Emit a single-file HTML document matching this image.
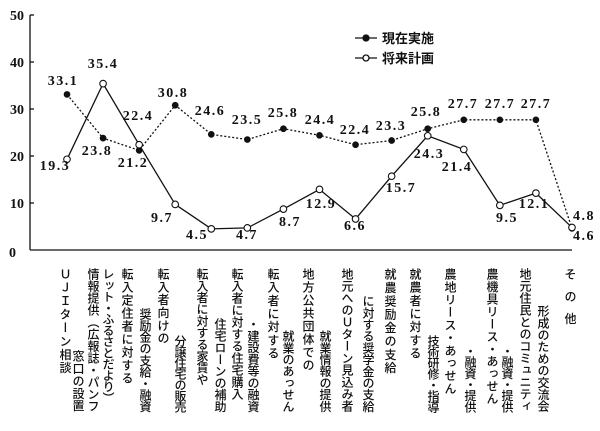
<!DOCTYPE html>
<html><head><meta charset="utf-8">
<style>
html,body{margin:0;padding:0;background:#fff;}
#w{position:relative;width:600px;height:431px;overflow:hidden;background:#fff;}
svg{position:absolute;left:0;top:0;}
.c{position:absolute;writing-mode:vertical-rl;text-orientation:upright;font-family:"Liberation Sans","Noto Sans CJK JP",sans-serif;font-size:12px;line-height:12px;color:#111;white-space:nowrap;font-weight:500;}
</style></head><body><div id="w">
<svg width="600" height="431" xmlns="http://www.w3.org/2000/svg" font-family="Liberation Serif, serif" font-weight="bold" fill="#111">
<g stroke="#111" stroke-width="1.3" fill="none">
<line x1="30" y1="15" x2="30" y2="250"/>
<line x1="30" y1="250" x2="572" y2="250"/>
<line x1="30" y1="15" x2="34" y2="15"/><line x1="30" y1="62" x2="34" y2="62"/><line x1="30" y1="109" x2="34" y2="109"/><line x1="30" y1="156" x2="34" y2="156"/><line x1="30" y1="203" x2="34" y2="203"/>
</g>
<g font-size="14" text-anchor="end">
<text x="24" y="20">50</text><text x="24" y="67">40</text><text x="24" y="114">30</text><text x="24" y="161">20</text><text x="24" y="208">10</text><text x="16" y="257">0</text>
</g>
<g id="lines"></g>
<g font-size="14" letter-spacing="1.5" text-anchor="middle">
<text x="63" y="85">33.1</text><text x="103" y="68">35.4</text><text x="138" y="120">22.4</text>
<text x="97" y="155">23.8</text><text x="55" y="170">19.3</text><text x="133" y="167">21.2</text>
<text x="173" y="97">30.8</text><text x="162" y="222">9.7</text><text x="210" y="115">24.6</text>
<text x="197" y="239">4.5</text><text x="247" y="124">23.5</text><text x="247" y="239">4.7</text>
<text x="283" y="117">25.8</text><text x="290" y="226">8.7</text><text x="320" y="124">24.4</text>
<text x="321" y="208">12.9</text><text x="355" y="134">22.4</text><text x="355" y="230">6.6</text>
<text x="391" y="130">23.3</text><text x="401" y="192">15.7</text><text x="426" y="116">25.8</text>
<text x="429" y="158">24.3</text><text x="463" y="108">27.7</text><text x="457" y="171">21.4</text>
<text x="500" y="108">27.7</text><text x="536" y="108">27.7</text><text x="507" y="222">9.5</text>
<text x="534" y="208">12.1</text><text x="584" y="220">4.8</text><text x="584" y="240">4.6</text>
</g>
<g stroke="#111" stroke-width="1.3">
<line x1="355" y1="38" x2="377" y2="38"/><circle cx="366" cy="38" r="3" fill="#111"/>
<line x1="355" y1="58" x2="377" y2="58"/><circle cx="366" cy="58" r="3" fill="#fff"/>
</g>
<g font-family="Liberation Sans, Noto Sans CJK JP, sans-serif" font-size="13">
<text x="382" y="43">現在実施</text><text x="382" y="63">将来計画</text>
</g>
</svg>
<script>
(function(){
var cur=[33.1,23.8,21.2,30.8,24.6,23.5,25.8,24.4,22.4,23.3,25.8,27.7,27.7,27.7,4.6];
var fut=[19.3,35.4,22.4,9.7,4.5,4.7,8.7,12.9,6.6,15.7,24.3,21.4,9.5,12.1,4.8];
function X(i){return 67+36.07*i;}function Y(v){return 250-v*4.7;}
var ns="http://www.w3.org/2000/svg",g=document.getElementById('lines');
function poly(d,dash){var p=document.createElementNS(ns,'polyline');p.setAttribute('points',d.map(function(v,i){return X(i)+','+Y(v)}).join(' '));p.setAttribute('fill','none');p.setAttribute('stroke','#111');p.setAttribute('stroke-width','1.3');if(dash)p.setAttribute('stroke-dasharray','2,2');g.appendChild(p);}
poly(cur,true);poly(fut,false);
function dots(d,fill,r){d.forEach(function(v,i){var c=document.createElementNS(ns,'circle');c.setAttribute('cx',X(i));c.setAttribute('cy',Y(v));c.setAttribute('r',r);c.setAttribute('fill',fill);c.setAttribute('stroke','#111');c.setAttribute('stroke-width','1.1');g.appendChild(c);});}
dots(cur,'#111',2.8);dots(fut,'#fff',3.3);
var cols=[
[65,268,375,"ＵＪＩターン相談"],[78,350,412,"窓口の設置"],
[93,268,412,"情報提供（広報誌・パンフ"],[108,268,403,"レット・ふるさとだより）"],
[127,268,385,"転入定住者に対する"],[145,308,412,"奨励金の支給・融資"],
[163,268,345,"転入者向けの"],[180,335,412,"分譲住宅の販売"],
[202,268,385,"転入者に対する家賃や"],[220,318,412,"住宅ローンの補助"],
[237,268,400,"転入者に対する住宅購入"],[253,318,412,"・建設費等の融資"],
[273,268,360,"転入者に対する"],[288,330,412,"就業のあっせん"],
[308,268,372,"地方公共団体での"],[325,330,412,"就業情報の提供"],
[347,268,412,"地元へのＵターン見込み者"],[368,295,412,"に対する奨学金の支給"],
[390,268,375,"就農奨励金の支給"],[415,268,360,"就農者に対する"],[433,335,412,"技術研修・指導"],
[450,268,395,"農地リース・あっせん"],[470,345,412,"・融資・提供"],
[492,268,405,"農機具リース・あっせん"],[507,345,412,"・融資・提供"],
[525,268,412,"地元住民とのコミュニティ"],[543,305,412,"形成のための交流会"],
[570,268,335,"その他"]];
var w=document.getElementById('w');
cols.forEach(function(c){var d=document.createElement('div');d.className='c';var n=c[3].length;var pitch=(c[2]-c[1])/n;
var ls=Math.max(pitch-12,-1);
d.style.left=(c[0]-6)+'px';d.style.top=c[1]+'px';d.style.letterSpacing=ls+'px';d.textContent=c[3];w.appendChild(d);});
})();
</script>
</div></body></html>
